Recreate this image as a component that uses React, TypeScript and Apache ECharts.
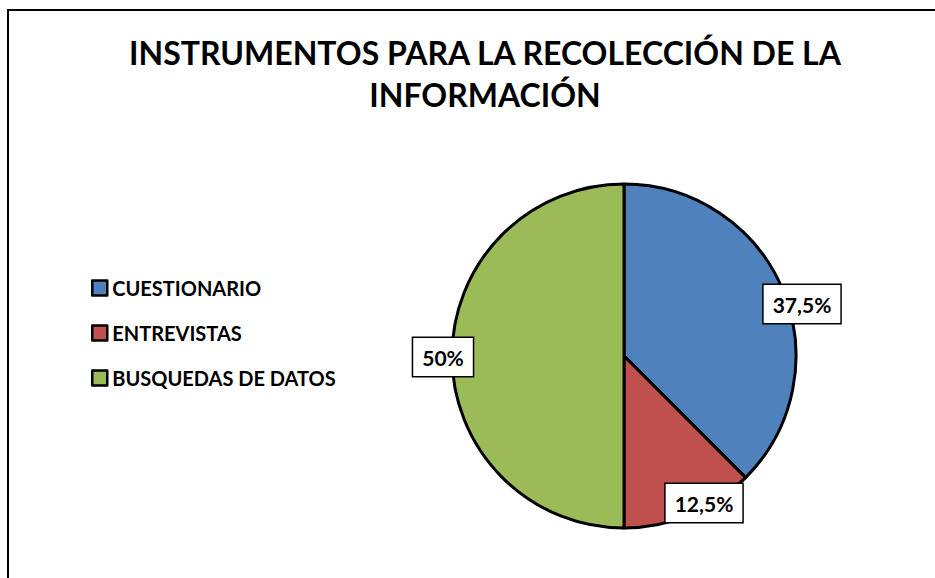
import React, { useEffect, useRef } from "react";
import * as echarts from "echarts";

const titleText = "INSTRUMENTOS PARA LA RECOLECCIÓN DE LA\nINFORMACIÓN";
const categories = ["CUESTIONARIO", "ENTREVISTAS", "BUSQUEDAS DE DATOS"];
const values = [37.5, 12.5, 50];
const colors = ["#4F81BD", "#C0504D", "#9BBB59"];
// label box centres (layout, not data)
const labelPos = [
  [802, 304],
  [704, 503],
  [443, 357],
];

export default function App() {
  const ref = useRef<HTMLDivElement>(null);
  useEffect(() => {
    if (!ref.current) return;
    const chart = echarts.init(ref.current, null, { renderer: "svg" });
    const font = "Lato, 'Open Sans', sans-serif";
    chart.setOption({
      animation: false,
      backgroundColor: "#ffffff",
      title: {
        text: titleText,
        left: 480,
        top: 26,
        textAlign: "center",
        textStyle: {
          fontFamily: font,
          fontWeight: "bold",
          fontSize: 32,
          lineHeight: 42,
          color: "#000",
          align: "center",
        },
      },
      legend: {
        orient: "vertical",
        left: 86,
        top: 273,
        itemWidth: 15,
        itemHeight: 15,
        itemGap: 25,
        icon: "rect",
        selectedMode: false,
        itemStyle: { borderColor: "#000", borderWidth: 2.5 },
        textStyle: {
          fontFamily: font,
          fontWeight: "bold",
          fontSize: 20,
          lineHeight: 16,
          color: "#000",
        },
        data: categories,
      },
      graphic: [
        {
          type: "rect",
          shape: { x: 8, y: 10, width: 1200, height: 1000 },
          style: { fill: "none", stroke: "#000", lineWidth: 2 },
          silent: true,
          z: 0,
        },
      ],
      series: [
        {
          type: "pie",
          center: [624, 356],
          radius: 172,
          startAngle: 90,
          clockwise: true,
          emphasis: { disabled: true },
          itemStyle: { borderColor: "#000", borderWidth: 3 },
          labelLine: { show: false },
          label: {
            show: true,
            position: "inside",
            formatter: (p: any) => String(p.value).replace(".", ",") + "%",
            fontFamily: font,
            fontWeight: "bold",
            fontSize: 21,
            lineHeight: 20,
            color: "#000",
            backgroundColor: "#fff",
            borderColor: "#000",
            borderWidth: 1.5,
            padding: [9, 9, 9, 9],
          },
          labelLayout: (params: any) => ({
            x: labelPos[params.dataIndex][0],
            y: labelPos[params.dataIndex][1],
            align: "center",
            verticalAlign: "middle",
          }),
          data: categories.map((name, i) => ({
            name,
            value: values[i],
            itemStyle: { color: colors[i] },
          })),
        },
      ],
    });
    return () => chart.dispose();
  }, []);
  return (
    <div
      ref={ref}
      style={{ position: "fixed", left: 0, top: 0, width: 935, height: 578 }}
    />
  );
}
